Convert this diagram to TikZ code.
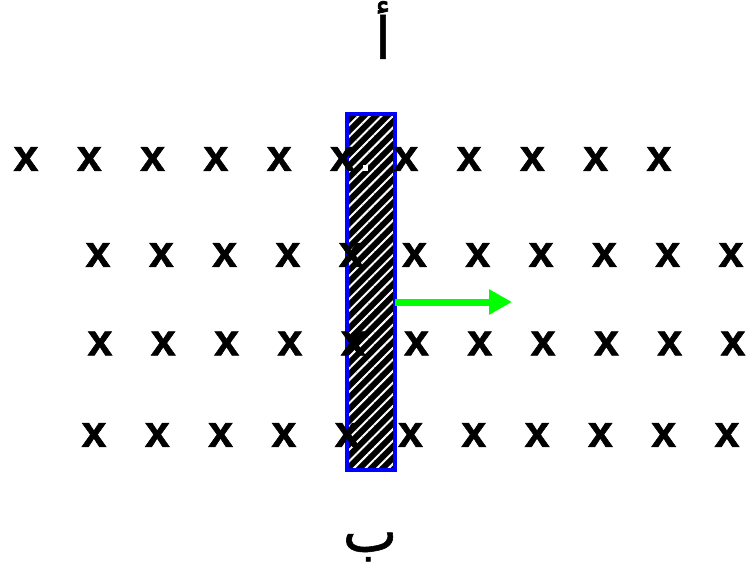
\documentclass[tikz,border=0pt]{standalone}
\usepackage{fontspec}
\setmainfont{Liberation Sans}
\newfontfamily\arabicfont[Script=Arabic,FakeBold=1]{DejaVu Sans}
\newfontfamily\crossfont[FakeBold=1.2]{Liberation Sans Bold}
\TeXXeTstate=1
\usetikzlibrary{arrows.meta,patterns.meta}
\definecolor{rodblue}{RGB}{0,0,255}
\definecolor{pushgreen}{RGB}{0,255,0}
\tikzset{
  cross/.style={font=\crossfont\fontsize{45}{45}\selectfont, inner sep=0pt},
  letter/.style={font=\arabicfont\fontsize{58}{60}\selectfont, inner sep=0pt},
  rod/.style={draw=rodblue, line width=4pt, minimum width=48pt, minimum height=355pt,
    inner sep=0pt, outer sep=0pt,
    preaction={fill=black},
    preaction={pattern={Lines[angle=45,distance=8.2pt,line width=2pt]}, pattern color=white}},
  push/.style={draw=pushgreen, line width=7pt, -{Triangle[length=23pt,width=24pt]}}
}
\begin{document}
\begin{tikzpicture}[x=1pt,y=-1pt]
\useasboundingbox (0,0) rectangle (750,567);
\node[letter] (top) at (383,30) {\beginR أ\endR};
\node[letter] (bottom) at (370,547) {\beginR ب\endR};
\node[rod] (rod) at (371,292) {};
\fill[white] (363,165) rectangle (368,171);
\foreach \r/\y/\s in {1/159/26,2/255/98,3/343.5/100,4/435/94}{
  \foreach \c in {0,...,10}{
    \node[cross] (x\r-\c) at (\s+\c*63.3,\y) {x};
  }
}
\coordinate (tip) at (512,302);
\draw[push] (rod.east |- tip) -- (tip);
\end{tikzpicture}
\end{document}
